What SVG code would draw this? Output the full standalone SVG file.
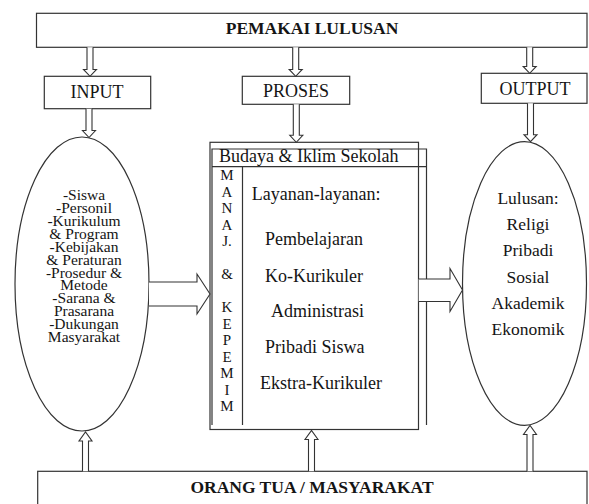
<svg xmlns="http://www.w3.org/2000/svg" width="589" height="504" viewBox="0 0 589 504" font-family="'Liberation Serif', 'Times New Roman', serif">
<style>
.bx{fill:#fff;stroke:#333;stroke-width:1.2}
.ln{fill:none;stroke:#333;stroke-width:1.2}
.ar{fill:#fff;stroke:#333;stroke-width:1.1;stroke-linejoin:miter}
text{fill:#151515}
.b{font-weight:bold;font-size:17.5px}
.lb{font-size:18px}
.el{font-size:15.5px}
.mc{font-size:15px}
.rt{font-size:17.5px}
</style>
<rect width="589" height="504" fill="#fff"/>

<g id="pemakai">
<rect class="bx" x="36.5" y="13.3" width="550.5" height="34"/>
<text class="b" x="312" y="34" text-anchor="middle">PEMAKAI LULUSAN</text>
</g>

<g id="input">
<rect class="bx" x="44.3" y="76.3" width="106.4" height="32.4"/>
<text class="lb" x="97" y="97.5" text-anchor="middle">INPUT</text>
</g>

<g id="proses">
<rect class="bx" x="242.3" y="76.3" width="107.4" height="28"/>
<text class="lb" x="296" y="96.5" text-anchor="middle">PROSES</text>
</g>

<g id="output">
<rect class="bx" x="481.3" y="73.3" width="105.7" height="30"/>
<text class="lb" x="535" y="94.5" text-anchor="middle">OUTPUT</text>
</g>

<g id="input-ellipse">
<ellipse class="bx" cx="82" cy="284" rx="67" ry="147"/>
<g class="el" text-anchor="middle">
<text x="84" y="200">-Siswa</text>
<text x="84" y="213">-Personil</text>
<text x="84" y="225.9">-Kurikulum</text>
<text x="84" y="238.8">&amp; Program</text>
<text x="84" y="251.7">-Kebijakan</text>
<text x="84" y="264.6">&amp; Peraturan</text>
<text x="84" y="277.5">-Prosedur &amp;</text>
<text x="84" y="290.4">Metode</text>
<text x="84" y="303.3">-Sarana &amp;</text>
<text x="84" y="316.2">Prasarana</text>
<text x="84" y="329.1">-Dukungan</text>
<text x="84" y="342">Masyarakat</text>
</g>
</g>

<g id="proses-box">
<rect class="bx" x="210" y="142.3" width="208.5" height="287.2"/>
<path class="ln" d="M212,425 V149 H426.5 V425 M212,166.7 H426.5 M242.5,166.7 V425"/>
<text class="lb" x="219" y="162">Budaya &amp; Iklim Sekolah</text>
<g class="mc" text-anchor="middle">
<text x="227" y="180">M</text>
<text x="227" y="196.5">A</text>
<text x="227" y="213">N</text>
<text x="227" y="229.5">A</text>
<text x="227" y="246">J.</text>
<text x="227" y="279">&amp;</text>
<text x="227" y="312">K</text>
<text x="227" y="328.5">E</text>
<text x="227" y="345">P</text>
<text x="227" y="361.5">E</text>
<text x="227" y="378">M</text>
<text x="227" y="394.5">I</text>
<text x="227" y="411">M</text>
</g>
<g class="lb">
<text x="251.7" y="200">Layanan-layanan:</text>
<text x="265" y="245">Pembelajaran</text>
<text x="265" y="281.5">Ko-Kurikuler</text>
<text x="271" y="317">Administrasi</text>
<text x="265" y="352.5">Pribadi Siswa</text>
<text x="260" y="389">Ekstra-Kurikuler</text>
</g>
</g>

<g id="output-ellipse">
<ellipse class="bx" cx="524.5" cy="283.5" rx="62" ry="141.8"/>
<g class="rt" text-anchor="middle">
<text x="528" y="204">Lulusan:</text>
<text x="528" y="230">Religi</text>
<text x="528" y="256">Pribadi</text>
<text x="528" y="282.5">Sosial</text>
<text x="528" y="308.5">Akademik</text>
<text x="528" y="335">Ekonomik</text>
</g>
</g>

<g id="orangtua">
<rect class="bx" x="37.7" y="471.3" width="549.3" height="40"/>
<text class="b" x="312" y="492.5" text-anchor="middle">ORANG TUA / MASYARAKAT</text>
</g>

<g id="connectors">
<path class="ar" d="M87,47.3 V69.5 H83.5 L90,76.3 L96.5,69.5 H93 V47.3"/>
<path class="ar" d="M86,108.7 V130.5 H82.5 L89,137.5 L95.5,130.5 H92 V108.7"/>
<path class="ar" d="M292.7,47.3 V69.5 H289.2 L295.7,76.3 L302.2,69.5 H298.7 V47.3"/>
<path class="ar" d="M293.3,104.3 V135.3 H289.8 L296.3,142.3 L302.8,135.3 H299.3 V104.3"/>
<path class="ar" d="M526.7,47.3 V66.5 H523.2 L529.7,73.3 L536.2,66.5 H532.7 V47.3"/>
<path class="ar" d="M527.5,103.3 V134.7 H524 L530.5,141.7 L537,134.7 H533.5 V103.3"/>
<path class="ar" d="M82.5,471.3 V441 H79 L85.5,432 L92,441 H88.5 V471.3"/>
<path class="ar" d="M308.5,471.3 V439.5 H305 L311.5,430.5 L318,439.5 H314.5 V471.3"/>
<path class="ar" d="M527,471.3 V434.5 H523.5 L530,425.5 L536.5,434.5 H533 V471.3"/>
<path class="ar" d="M149,282 H197 V274 L210,294 L197,314 V306 H149"/>
<path class="ar" d="M418.7,279 H450 V268.5 L462.5,290 L450,311.5 V301.5 H418.7"/>
</g>
</svg>
